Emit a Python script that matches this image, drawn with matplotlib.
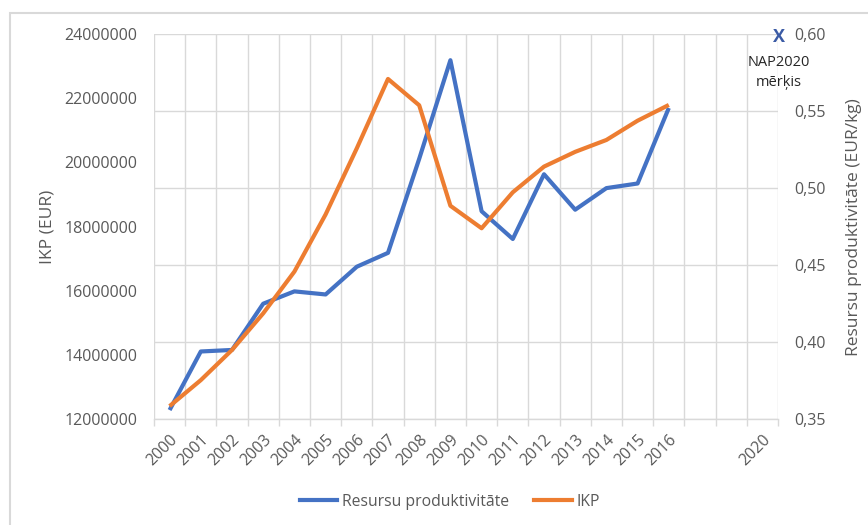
import numpy as np
import matplotlib
matplotlib.use("Agg")
import matplotlib.pyplot as plt
from matplotlib.ticker import FuncFormatter, MultipleLocator, FixedLocator
from matplotlib.patches import Rectangle

plt.rcParams['font.family'] = ['Open Sans', 'DejaVu Sans']

# categories (three empty slots before the 2020 target)
year_labels = [str(y) for y in range(2000, 2017)] + ['', '', '2020']

# resource productivity, EUR/kg (right axis)
resource_productivity = [0.356, 0.394, 0.395, 0.425, 0.433, 0.431, 0.449, 0.458, 0.519,
                         0.583, 0.485, 0.467, 0.509, 0.486, 0.500, 0.503, 0.552]
# GDP, EUR (left axis)
ikp = [12.41e6, 13.22e6, 14.16e6, 15.30e6, 16.60e6, 18.38e6, 20.44e6, 22.60e6, 21.78e6,
       18.65e6, 17.95e6, 19.07e6, 19.87e6, 20.33e6, 20.70e6, 21.30e6, 21.79e6]

# NAP2020 target
target_label = '2020'
target_value = 0.60

blue = '#4472C4'
orange = '#ED7D31'
grid_c = '#d9d9d9'
text_c = '#595959'

fig = plt.figure(figsize=(8.68, 5.25), dpi=100)
ax = fig.add_axes([154/868, 1-419.3/525, 624/868, 385.3/525])
ax2 = ax.twinx()

x = np.arange(len(year_labels))
n = len(resource_productivity)

# main axes: resource productivity, ticks on the right, gridlines
ax.plot(x[:n], resource_productivity, color=blue, lw=3, solid_capstyle='butt', zorder=3)
ax.set_ylim(0.35, 0.60)
ax.yaxis.set_major_locator(MultipleLocator(0.05))
ax.yaxis.set_major_formatter(FuncFormatter(lambda v, p: f"{v:.2f}".replace('.', ',')))
ax.yaxis.tick_right()
ax.yaxis.set_label_position('right')
ax.set_ylabel('Resursu produktivitāte (EUR/kg)', fontsize=12.5, color=text_c, labelpad=14)
ax.set_xlim(-0.5, len(year_labels) - 0.5)
ax.set_xticks(x)
ax.set_xticklabels(year_labels, rotation=45, ha='right', va='top', rotation_mode='anchor')
ax.xaxis.set_minor_locator(FixedLocator(np.arange(-0.5, len(year_labels), 1)))
ax.tick_params(axis='x', which='major', length=0, pad=9, labelsize=11.5, labelcolor=text_c)
ax.tick_params(axis='x', which='minor', length=5, color=grid_c, width=1)
ax.tick_params(axis='y', length=0, pad=12, labelsize=11.5, labelcolor=text_c)
ax.grid(True, which='major', axis='y', color=grid_c, lw=1)
ax.grid(True, which='minor', axis='x', color=grid_c, lw=1)
ax.set_axisbelow(True)
for s in ['top', 'left', 'right']:
    ax.spines[s].set_visible(False)
ax.spines['bottom'].set_color(grid_c)
ax.spines['bottom'].set_linewidth(1)

# twin axes: GDP, ticks on the left
ax2.plot(x[:n], ikp, color=orange, lw=3, solid_capstyle='butt', zorder=3)
ax2.set_ylim(12e6, 24e6)
ax2.yaxis.set_major_locator(MultipleLocator(2e6))
ax2.yaxis.set_major_formatter(FuncFormatter(lambda v, p: f"{int(round(v))}"))
ax2.yaxis.tick_left()
ax2.yaxis.set_label_position('left')
ax2.set_ylabel('IKP (EUR)', fontsize=12.5, color=text_c, labelpad=6)
ax2.tick_params(axis='y', length=0, pad=12, labelsize=11.5, labelcolor=text_c)
for s in ax2.spines.values():
    s.set_visible(False)

# target marker and label
ti = year_labels.index(target_label)
ax.annotate('X', (ti, target_value), xytext=(12, -2), textcoords='offset points',
            ha='center', va='center', fontsize=13, fontweight='bold', color='#3b5ba5',
            annotation_clip=False)
ax.annotate('NAP2020\nmērķis', (ti, target_value), xytext=(12, -15), textcoords='offset points',
            ha='center', va='top', fontsize=10.5, color='#262626', linespacing=1.45,
            annotation_clip=False)

# legend
h1, = ax.plot([], [], color=blue, lw=3)
h2, = ax.plot([], [], color=orange, lw=3)
fig.legend([h1, h2], ['Resursu produktivitāte', 'IKP'], loc='center',
           bbox_to_anchor=(450/868, 1-501.7/525), ncol=2, frameon=False,
           fontsize=11.3, labelcolor=text_c, handlelength=2.4, handletextpad=0.3,
           columnspacing=1.6)

# chart frame
fig.patches.append(Rectangle((10/868, -0.1), 2, (525-13)/525 + 0.1, transform=fig.transFigure,
                             fill=False, edgecolor=grid_c, lw=1.5))

fig.savefig('out.png', dpi=100)
